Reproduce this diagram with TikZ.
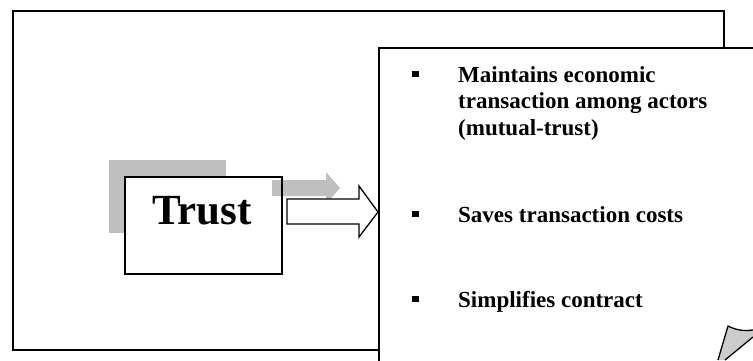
\documentclass[tikz,border=0pt]{standalone}
\usepackage{fontspec}
\setmainfont{Liberation Serif}
\begin{document}
\begin{tikzpicture}[x=1pt,y=-1pt,
  frame/.style={draw=black,line width=1.5pt},
  shade/.style={fill=black!25,draw=none},
  bul/.style={fill=black,minimum size=6.5pt,inner sep=0pt},
  item/.style={anchor=base west,inner sep=0pt,font=\bfseries\fontsize{23}{26.5}\selectfont},
]
\useasboundingbox (0,0) rectangle (753,360);
\begin{scope}
\clip (0,0) rectangle (753,360);
% outer frame
\node[frame,fill=white,minimum width=711pt,minimum height=339pt,inner sep=0pt,anchor=north west] (outer) at (12,10) {};
% shadow of trust box
\fill[shade] (109,160) rectangle (226,233);
% trust box fill
\fill[white] (124,176) rectangle (281,273);
% gray shadow arrow
\fill[shade] (272,180) -- (326,180) -- (326,172) -- (340,188) -- (326,204) -- (326,196) -- (272,196) -- cycle;
% trust box
\node[frame,minimum width=157pt,minimum height=97pt,inner sep=0pt,anchor=north west] (trust) at (124,176) {};
\node[anchor=base,inner sep=0pt,font=\bfseries\fontsize{43}{43}\selectfont] (trusttxt) at (202,224) {Trust};
% right box
\node[frame,fill=white,minimum width=400pt,minimum height=340pt,inner sep=0pt,anchor=north west] (right) at (378,47) {};
% white block arrow
\draw[line width=1.3pt,fill=white,line join=miter]
  (287,199) -- (359,199) -- (359,186) -- (right.west |- 0,212) -- (359,237) -- (359,224) -- (287,224) -- cycle;
% bullets
\node[bul] (b1) at (415.5,74) {};
\node[bul] (b2) at (415.5,214) {};
\node[bul] (b3) at (415.5,299) {};
\node[item] (t1a) at (458,82) {Maintains economic};
\node[item] (t1b) at (458,108.5) {transaction among actors};
\node[item] (t1c) at (458,135) {(mutual-trust)};
\node[item] (t2) at (458,222) {Saves transaction costs};
\node[item] (t3) at (458,307) {Simplifies contract};
% page curl
\fill[black!20] (718,360) -- (728,326) .. controls (738,331) and (746,331) .. (753,330) -- (753,337) -- (725,360) -- cycle;
\draw[line width=1.3pt,line join=round] (718,360) -- (728,326) .. controls (738,331) and (746,331) .. (753,330);
\draw[line width=1.3pt] (753,337) -- (725,360);
\end{scope}
\end{tikzpicture}
\end{document}
